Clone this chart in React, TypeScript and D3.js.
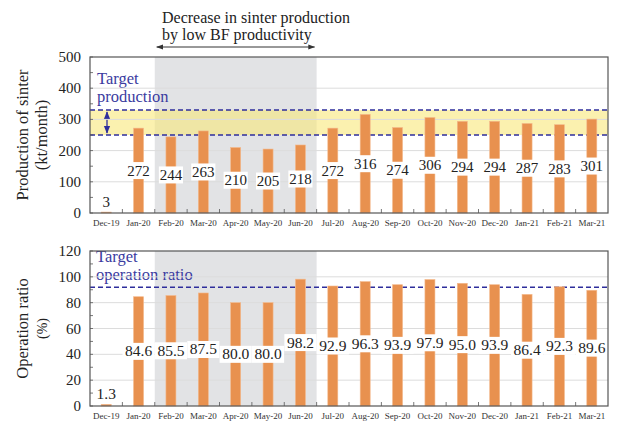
import React from "react";
import * as d3 from "d3";

const months = [
  "Dec-19", "Jan-20", "Feb-20", "Mar-20", "Apr-20", "May-20", "Jun-20", "Jul-20",
  "Aug-20", "Sep-20", "Oct-20", "Nov-20", "Dec-20", "Jan-21", "Feb-21", "Mar-21",
];
const production = [3, 272, 244, 263, 210, 205, 218, 272, 316, 274, 306, 294, 294, 287, 283, 301];
const productionLabels = ["3", "272", "244", "263", "210", "205", "218", "272", "316", "274", "306", "294", "294", "287", "283", "301"];
const ratio = [1.3, 84.6, 85.5, 87.5, 80.0, 80.0, 98.2, 92.9, 96.3, 93.9, 97.9, 95.0, 93.9, 86.4, 92.3, 89.6];
const ratioLabels = ["1.3", "84.6", "85.5", "87.5", "80.0", "80.0", "98.2", "92.9", "96.3", "93.9", "97.9", "95.0", "93.9", "86.4", "92.3", "89.6"];
const targetProduction = [250, 330];
const targetRatio = 92;
const lowPeriod = ["Feb-20", "Jun-20"];
const prodTicks = [0, 100, 200, 300, 400, 500];
const ratioTicks = [0, 20, 40, 60, 80, 100, 120];

const FONT = "'Liberation Serif'";
const BAR = "#e8914f";
const BAR_EDGE = "#f4b98c";
const BLUE = "#2e2e9c";
const BLUE_TEXT = "#3b3ba0";

const left = 90;
const right = 608;

const x = d3.scaleBand<string>().domain(months).range([left, right]).paddingInner(0);
const barW = 10;

interface PanelProps {
  top: number;
  bottom: number;
  max: number;
  ticks: number[];
  minor: number;
  values: number[];
  labels: string[];
  labelSize: number;
  children?: (y: d3.ScaleLinear<number, number>) => React.ReactNode;
  title: string[];
  titleSizes: number[];
}

function Panel(props: PanelProps) {
  const { top, bottom, max, ticks, minor, values, labels, labelSize, children, title, titleSizes } = props;
  const y = d3.scaleLinear().domain([0, max]).range([bottom, top]);
  const x0 = x(lowPeriod[0])!;
  const x1 = x(lowPeriod[1])! + x.bandwidth();
  const minorTicks = d3.range(0, max + 0.001, minor);
  const midY = (top + bottom) / 2;
  return (
    <g>
      <rect x={x0} y={top} width={x1 - x0} height={bottom - top} fill="#e2e3e5" />
      {children && children(y)}
      {ticks.slice(1, -1).map((t) => (
        <line key={"g" + t} x1={left} x2={right} y1={y(t)} y2={y(t)} stroke="#dcdcdc" strokeWidth={1} />
      ))}
      {minorTicks.map((t) => (
        <line key={"m" + t} x1={left} x2={left + 3} y1={y(t)} y2={y(t)} stroke="#555" strokeWidth={0.8} />
      ))}
      {months.slice(1).map((m) => (
        <line key={"xt" + m} x1={x(m)!} x2={x(m)!} y1={bottom} y2={bottom - 4} stroke="#555" strokeWidth={0.8} />
      ))}
      {ticks.map((t) => (
        <text key={"yl" + t} x={81} y={y(t) + 5} textAnchor="end" fontSize={15} style={{ fontFamily: FONT }} fill="#222">
          {t}
        </text>
      ))}
      {months.map((m) => (
        <text key={"xl" + m} x={x(m)! + x.bandwidth() / 2} y={bottom + 13} textAnchor="middle" fontSize={9} style={{ fontFamily: FONT }} fill="#333">
          {m}
        </text>
      ))}
      {values.map((v, i) => {
        const cx = x(months[i])! + x.bandwidth() / 2;
        return (
          <rect key={"b" + i} x={cx - barW / 2} y={y(v)} width={barW} height={bottom - y(v)} fill={BAR} stroke={BAR_EDGE} strokeWidth={0.6} />
        );
      })}
      {values.map((v, i) => {
        const cx = x(months[i])! + x.bandwidth() / 2;
        const small = bottom - y(v) < 20;
        const cy = small ? y(v) - 10 : y(v / 2);
        const w = labels[i].length * labelSize * 0.47 + 3;
        return (
          <g key={"l" + i}>
            {!small && <rect x={cx - w / 2} y={cy - 8.5} width={w} height={17} fill="#fff" />}
            <text x={cx} y={cy + 5} textAnchor="middle" fontSize={labelSize} style={{ fontFamily: FONT }} fill="#222">
              {labels[i]}
            </text>
          </g>
        );
      })}
      <rect x={left} y={top} width={right - left} height={bottom - top} fill="none" stroke="#555" strokeWidth={1.2} />
      <g transform={`translate(0,${midY}) rotate(-90)`}>
        {title.map((t, i) => (
          <text key={t} x={0} y={i === 0 ? 28 : 47} textAnchor="middle" fontSize={titleSizes[i]} style={{ fontFamily: FONT }} fill="#222">
            {t}
          </text>
        ))}
      </g>
    </g>
  );
}

export default function App() {
  const ax0 = x(lowPeriod[0])!;
  const ax1 = x(lowPeriod[1])! + x.bandwidth();
  return (
    <svg width={617} height={427} style={{ position: "absolute", left: 0, top: 0 }}>
      <defs>
        <marker id="ah" viewBox="0 0 10 10" refX="9" refY="5" markerWidth="7" markerHeight="7" orient="auto-start-reverse">
          <path d="M0,1.5 L10,5 L0,8.5 z" fill="#333" />
        </marker>
        <marker id="ahb" viewBox="0 0 10 10" refX="9" refY="5" markerWidth="6" markerHeight="6" orient="auto-start-reverse">
          <path d="M0,1 L10,5 L0,9 z" fill={BLUE} />
        </marker>
      </defs>
      <rect width={617} height={427} fill="#fff" />
      <text x={162} y={22.5} fontSize={16} style={{ fontFamily: FONT }} fill="#222">Decrease in sinter production</text>
      <text x={162} y={40} fontSize={16} style={{ fontFamily: FONT }} fill="#222">by low BF productivity</text>
      <line x1={ax0 + 2} x2={ax1 - 2} y1={47} y2={47} stroke="#333" strokeWidth={1} markerStart="url(#ah)" markerEnd="url(#ah)" />

      <Panel
        top={57}
        bottom={213}
        max={500}
        ticks={prodTicks}
        minor={50}
        values={production}
        labels={productionLabels}
        labelSize={15}
        title={["Production of sinter", "(kt/month)"]}
        titleSizes={[16.5, 16.5]}
      >
        {(y) => (
          <g>
            <rect x={left} y={y(targetProduction[1])} width={right - left} height={y(targetProduction[0]) - y(targetProduction[1])} fill="#f8e77a" opacity={0.6} />
            {targetProduction.map((t) => (
              <line key={t} x1={left} x2={right} y1={y(t)} y2={y(t)} stroke={BLUE} strokeWidth={1.5} strokeDasharray="5,3" />
            ))}
            <line x1={107} x2={107} y1={y(targetProduction[1]) + 2} y2={y(targetProduction[0]) - 2} stroke={BLUE} strokeWidth={1.3} markerStart="url(#ahb)" markerEnd="url(#ahb)" />
            <text x={97} y={84} fontSize={16.5} style={{ fontFamily: FONT }} fill={BLUE_TEXT}>Target</text>
            <text x={97} y={102} fontSize={16.5} style={{ fontFamily: FONT }} fill={BLUE_TEXT}>production</text>
          </g>
        )}
      </Panel>

      <Panel
        top={251}
        bottom={406}
        max={120}
        ticks={ratioTicks}
        minor={10}
        values={ratio}
        labels={ratioLabels}
        labelSize={15.5}
        title={["Operation ratio", "(%)"]}
        titleSizes={[16.5, 14]}
      >
        {(y) => (
          <g>
            <line x1={left} x2={right} y1={y(targetRatio)} y2={y(targetRatio)} stroke={BLUE} strokeWidth={1.5} strokeDasharray="5,3" />
            <text x={96} y={262} fontSize={16.5} style={{ fontFamily: FONT }} fill={BLUE_TEXT}>Target</text>
            <text x={96} y={279.5} fontSize={16.5} style={{ fontFamily: FONT }} fill={BLUE_TEXT}>operation ratio</text>
          </g>
        )}
      </Panel>
    </svg>
  );
}
